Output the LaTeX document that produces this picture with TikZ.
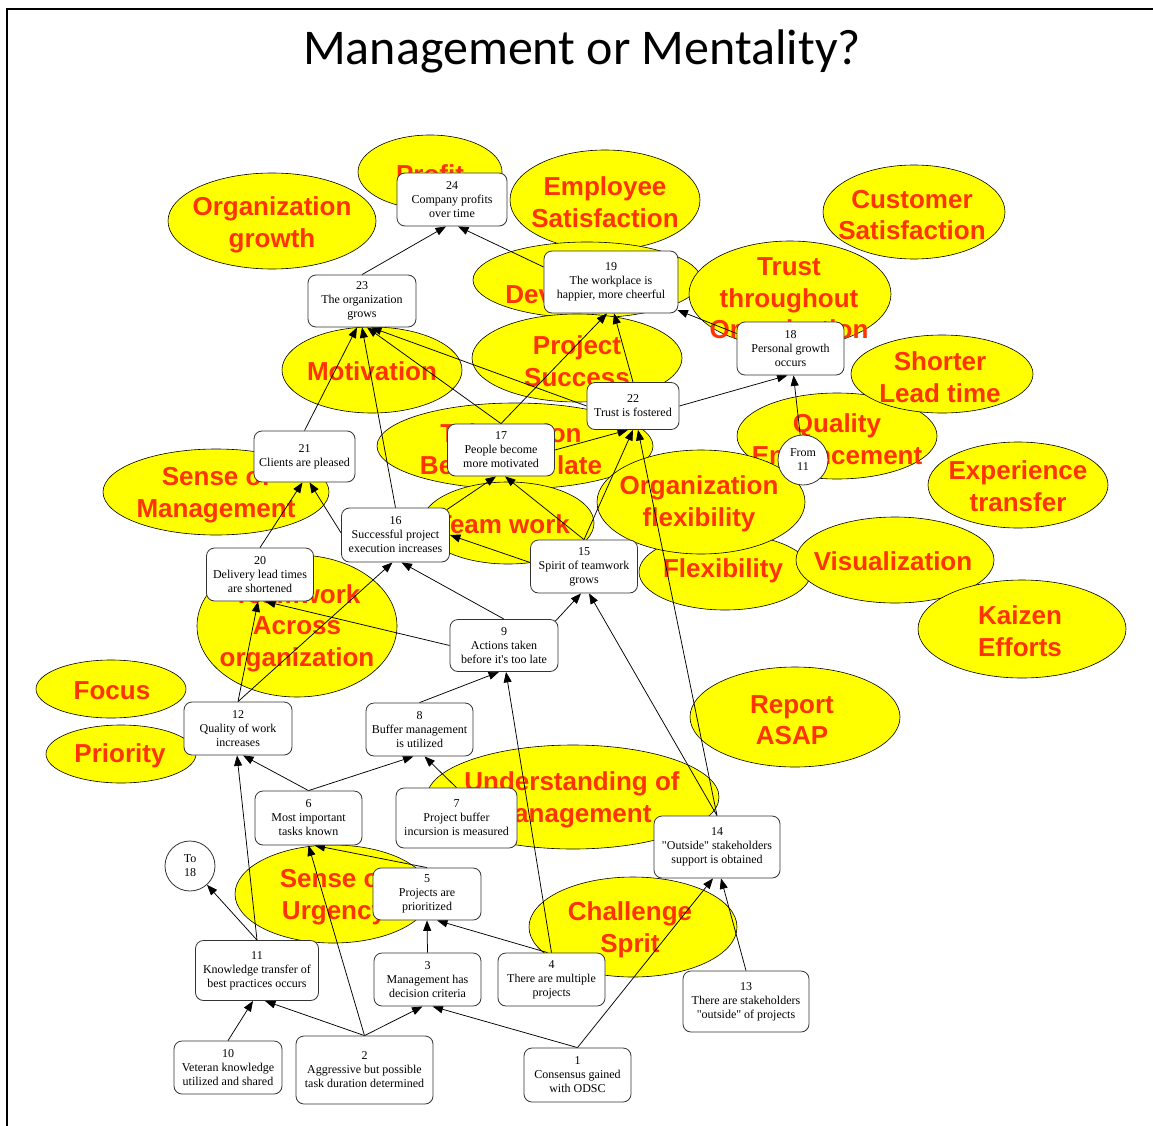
\documentclass[tikz,border=0pt]{standalone}
\usepackage{fontspec}
\setmainfont{Liberation Serif}
\newfontfamily\blobfont{Liberation Sans}
\newfontfamily\titlefont{Carlito}
\usetikzlibrary{shapes.geometric,arrows.meta,calc}
\definecolor{blobfill}{RGB}{255,255,0}
\definecolor{blobred}{RGB}{255,51,0}
\pgfdeclarelayer{paper}
\pgfdeclarelayer{back}
\pgfdeclarelayer{edges}
\pgfsetlayers{paper,back,edges,main}
\begin{document}
\begin{tikzpicture}[x=1pt,y=-1pt,
  blob/.style={ellipse, draw=black, line width=0.6pt, fill=blobfill, inner sep=0pt},
  blobtext/.style={text=blobred, font=\blobfont\bfseries\fontsize{26}{31.5}\selectfont, align=center, inner sep=0pt},
  box/.style={draw=black!80, line width=0.8pt, rounded corners=8pt, fill=white, align=center, font=\fontsize{12}{14}\selectfont, text=black, inner sep=1pt},
  circ/.style={circle, draw=black!80, line width=0.8pt, fill=white, minimum size=50pt, inner sep=0pt, align=center, font=\fontsize{12}{14}\selectfont},
  edge/.style={line width=0.75pt, -{Triangle[length=10.5pt,width=8pt]}},
]
\useasboundingbox (0,0) rectangle (1153,1126);
\begin{pgfonlayer}{paper}
\fill[white] (0,0) rectangle (1153,1126);
\end{pgfonlayer}
\draw[line width=2.2pt] (7,1126) -- (7,9) -- (1153,9);
\node[font=\titlefont\fontsize{50}{60}\selectfont, anchor=base] (title) at (582,65) {Management or Mentality?};

\begin{pgfonlayer}{back}
\node[blob, minimum width=144pt, minimum height=74pt] (eProfit) at (430,172) {};
\node[blobtext] (tProfit) at (430,174) {Profit};
\node[blob, minimum width=208pt, minimum height=96pt] (eOrgGrowth) at (272,221) {};
\node[blobtext] (tOrgGrowth) at (272,225) {Organization\\growth};
\node[blob, minimum width=190pt, minimum height=100pt] (eEmploy) at (605,200) {};
\node[blobtext] (tEmploy) at (605,202) {Employee\\Satisfaction};
\node[blob, minimum width=182pt, minimum height=94pt] (eCustomer) at (914,212) {};
\node[blobtext] (tCustomer) at (912,215) {Customer\\Satisfaction};
\node[blob, minimum width=228pt, minimum height=76pt] (ePeople) at (587,280) {};
\node[blobtext] (tPeople) at (587,281) {People\\Development};
\node[blob, minimum width=202pt, minimum height=106pt] (eTrust) at (790,294) {};
\node[blobtext] (tTrust) at (789,301) {Trust\\throughout\\Organization};
\node[blob, minimum width=210pt, minimum height=88pt] (eProj) at (577,358) {};
\node[blobtext] (tProj) at (577,361) {Project\\Success};
\node[blob, minimum width=180pt, minimum height=86pt] (eMotiv) at (372,370) {};
\node[blobtext] (tMotiv) at (372,371) {Motivation};
\node[blob, minimum width=200pt, minimum height=86pt] (eQual) at (837,436) {};
\node[blobtext] (tQual) at (837,439) {Quality\\Enhancement};
\node[blob, minimum width=182pt, minimum height=78pt] (eShort) at (942,374) {};
\node[blobtext] (tShort) at (940,377) {Shorter\\Lead time};
\node[blob, minimum width=276pt, minimum height=86pt] (eTake) at (515,446) {};
\node[blobtext] (tTake) at (511,449) {Take action\\Before too late};
\node[blob, minimum width=226pt, minimum height=86pt] (eSenseM) at (216,492) {};
\node[blobtext] (tSenseM) at (216,495) {Sense of\\Management};
\node[blob, minimum width=172pt, minimum height=82pt] (eTeam) at (508,523) {};
\node[blobtext] (tTeam) at (503,524) {Team work};
\node[blob, minimum width=172pt, minimum height=76pt] (eFlex) at (725,572) {};
\node[blobtext] (tFlex) at (723,571) {Flexibility};
\node[blob, minimum width=208pt, minimum height=104pt] (eOrgFlex) at (701,502) {};
\node[blobtext] (tOrgFlex) at (699,504) {Organization\\flexibility};
\node[blob, minimum width=198pt, minimum height=86pt] (eVis) at (895,560) {};
\node[blobtext] (tVis) at (893,561) {Visualization};
\node[blob, minimum width=180pt, minimum height=86pt] (eExp) at (1018,485) {};
\node[blobtext] (tExp) at (1018,486) {Experience\\transfer};
\node[blob, minimum width=208pt, minimum height=98pt] (eKaizen) at (1022,629) {};
\node[blobtext] (tKaizen) at (1020,631) {Kaizen\\Efforts};
\node[blob, minimum width=200pt, minimum height=142pt] (eAcross) at (297,626) {};
\node[blobtext] (tAcross) at (297,628) {Teamwork\\Across\\organization};
\node[blob, minimum width=150pt, minimum height=58pt] (eFocus) at (111,689) {};
\node[blobtext] (tFocus) at (112,691) {Focus};
\node[blob, minimum width=150pt, minimum height=58pt] (ePrio) at (121,754) {};
\node[blobtext] (tPrio) at (120,756) {Priority};
\node[blob, minimum width=210pt, minimum height=100pt] (eReport) at (795,717) {};
\node[blobtext] (tReport) at (792,720) {Report\\ASAP};
\node[blob, minimum width=292pt, minimum height=104pt] (eUnder) at (573,797) {};
\node[blobtext] (tUnder) at (572,800) {Understanding of\\Management};
\node[blob, minimum width=196pt, minimum height=98pt] (eUrg) at (333,894) {};
\node[blobtext] (tUrg) at (334,897) {Sense of\\Urgency};
\node[blob, minimum width=208pt, minimum height=100pt] (eChal) at (633,927) {};
\node[blobtext] (tChal) at (630,930) {Challenge\\Sprit};
\end{pgfonlayer}

\node[box, minimum width=110pt, minimum height=53pt] (n24) at (452,199.5) {24\\Company profits\\over time};
\node[box, minimum width=108pt, minimum height=52pt] (n23) at (362,301) {23\\The organization\\grows};
\node[box, minimum width=134pt, minimum height=62pt] (n19) at (611,282) {19\\The workplace is\\happier, more cheerful};
\node[box, minimum width=107pt, minimum height=53pt] (n18) at (790.5,348.5) {18\\Personal growth\\occurs};
\node[box, minimum width=92pt, minimum height=47pt] (n22) at (633,406) {22\\Trust is fostered};
\node[box, minimum width=107pt, minimum height=52pt] (n17) at (501,450) {17\\People become\\more motivated};
\node[box, minimum width=101pt, minimum height=51pt] (n21) at (304.5,456.5) {21\\Clients are pleased};
\node[box, minimum width=108pt, minimum height=54pt] (n16) at (395.5,535) {16\\Successful project\\execution increases};
\node[box, minimum width=107pt, minimum height=53pt] (n15) at (584,566.5) {15\\Spirit of teamwork\\grows};
\node[box, minimum width=107pt, minimum height=53pt] (n20) at (260,574.5) {20\\Delivery lead times\\are shortened};
\node[box, minimum width=108pt, minimum height=52pt] (n9) at (504,645.5) {9\\Actions taken\\before it\textquotesingle s too late};
\node[box, minimum width=108pt, minimum height=53pt] (n12) at (238,728.5) {12\\Quality of work\\increases};
\node[box, minimum width=107pt, minimum height=53pt] (n8) at (419.5,729.5) {8\\Buffer management\\is utilized};
\node[box, minimum width=107pt, minimum height=54pt] (n6) at (308.5,818) {6\\Most important\\tasks known};
\node[box, minimum width=121pt, minimum height=60pt] (n7) at (456.5,818) {7\\Project buffer\\incursion is measured};
\node[box, minimum width=126pt, minimum height=62pt] (n14) at (717,847) {14\\\textquotedbl Outside\textquotedbl{} stakeholders\\support is obtained};
\node[box, minimum width=108pt, minimum height=52pt] (n5) at (427,894) {5\\Projects are\\prioritized};
\node[box, minimum width=123pt, minimum height=60pt] (n11) at (257,970.5) {11\\Knowledge transfer of\\best practices occurs};
\node[box, minimum width=107pt, minimum height=53pt] (n3) at (427.5,979.5) {3\\Management has\\decision criteria};
\node[box, minimum width=107pt, minimum height=53pt] (n4) at (551.5,979.5) {4\\There are multiple\\projects};
\node[box, minimum width=108pt, minimum height=53pt] (n10) at (228,1067.5) {10\\Veteran knowledge\\utilized and shared};
\node[box, minimum width=137pt, minimum height=68pt] (n2) at (364.5,1070) {2\\Aggressive but possible\\task duration determined};
\node[box, minimum width=107pt, minimum height=54pt] (n1) at (577.5,1075) {1\\Consensus gained\\with ODSC};
\node[box, minimum width=126pt, minimum height=61pt] (n13) at (746,1001.5) {13\\There are stakeholders\\\textquotedbl outside\textquotedbl{} of projects};
\node[circ] (from11) at (803,460) {From\\11};
\node[circ] (to18) at (190,866) {To\\18};

\begin{pgfonlayer}{edges}
\draw[edge] (n23.north) -- ($(n24.south)+(-6,0)$);
\draw[edge] ($(n19.west)+(0,-15)$) -- ($(n24.south)+(6,0)$);
\draw[edge] (n21.north) -- ($(n23.south)+(-5,0)$);
\draw[edge] (n16.north) -- (n23.south);
\draw[edge] (n17.north) -- ($(n23.south)+(5,0)$);
\draw[edge] (n22.west) -- ($(n23.south)+(9,0)$);
\draw[edge] (n17.north) -- ($(n19.south)+(-4,0)$);
\draw[edge] (n22.north) -- ($(n19.south)+(3,0)$);
\draw[edge] ($(n18.west)+(0,-15)$) -- ($(n19.east)+(-1,28)$);
\draw[edge] (n22.east) -- ($(n18.south)+(-3,0)$);
\draw[edge] (from11) -- ($(n18.south)+(3,0)$);
\draw[edge] (n17.east) -- ($(n22.south)+(-5,0)$);
\draw[edge] (n15.north) -- (n22.south);
\draw[edge] (n14.north) -- ($(n22.south)+(5,0)$);
\draw[edge] (n14.north) -- ($(n15.south)+(5,0)$);
\draw[edge] ($(n9.north east)+(-3,2)$) -- ($(n15.south)+(-3,0)$);
\draw[edge] (n15.north) -- ($(n17.south)+(4,0)$);
\draw[edge] ($(n16.north east)+(-3,2)$) -- ($(n17.south)+(-5,0)$);
\draw[edge] ($(n15.west)+(0,-4)$) -- (n16.east);
\draw[edge] (n9.north) -- ($(n16.south)+(6,0)$);
\draw[edge] (n12.north) -- ($(n16.south)+(-3,0)$);
\draw[edge] (n12.north) -- ($(n20.south)+(-2,0)$);
\draw[edge] (n9.west) -- ($(n20.south)+(5,0)$);
\draw[edge] (n20.north) -- ($(n21.south)+(-2,0)$);
\draw[edge] ($(n16.west)+(0,-2)$) -- ($(n21.south)+(5,0)$);
\draw[edge] (n8.north) -- ($(n9.south)+(-5,0)$);
\draw[edge] (n4.north) -- ($(n9.south)+(2,0)$);
\draw[edge] (n6.north) -- ($(n12.south)+(5,0)$);
\draw[edge] (n11.north) -- ($(n12.south)+(-1,0)$);
\draw[edge] (n6.north) -- ($(n8.south)+(-6,0)$);
\draw[edge] (n7.north) -- ($(n8.south)+(5,0)$);
\draw[edge] (n5.north) -- ($(n6.south)+(6,0)$);
\draw[edge] (n2.north) -- (n6.south);
\draw[edge] (n2.north) -- ($(n11.south)+(8,0)$);
\draw[edge] (n2.north) -- ($(n3.south)+(-5,0)$);
\draw[edge] (n10.north) -- ($(n11.south)+(-4,0)$);
\draw[edge] (n1.north) -- ($(n3.south)+(5,0)$);
\draw[edge] (n1.north) -- ($(n14.south)+(-4,0)$);
\draw[edge] (n13.north) -- ($(n14.south)+(4,0)$);
\draw[edge] (n3.north) -- (n5.south);
\draw[edge] ($(n4.north)+(-4,0)$) -- ($(n5.south)+(10,0)$);
\draw[edge] (n11.north) -- (to18);
\end{pgfonlayer}
\end{tikzpicture}
\end{document}
